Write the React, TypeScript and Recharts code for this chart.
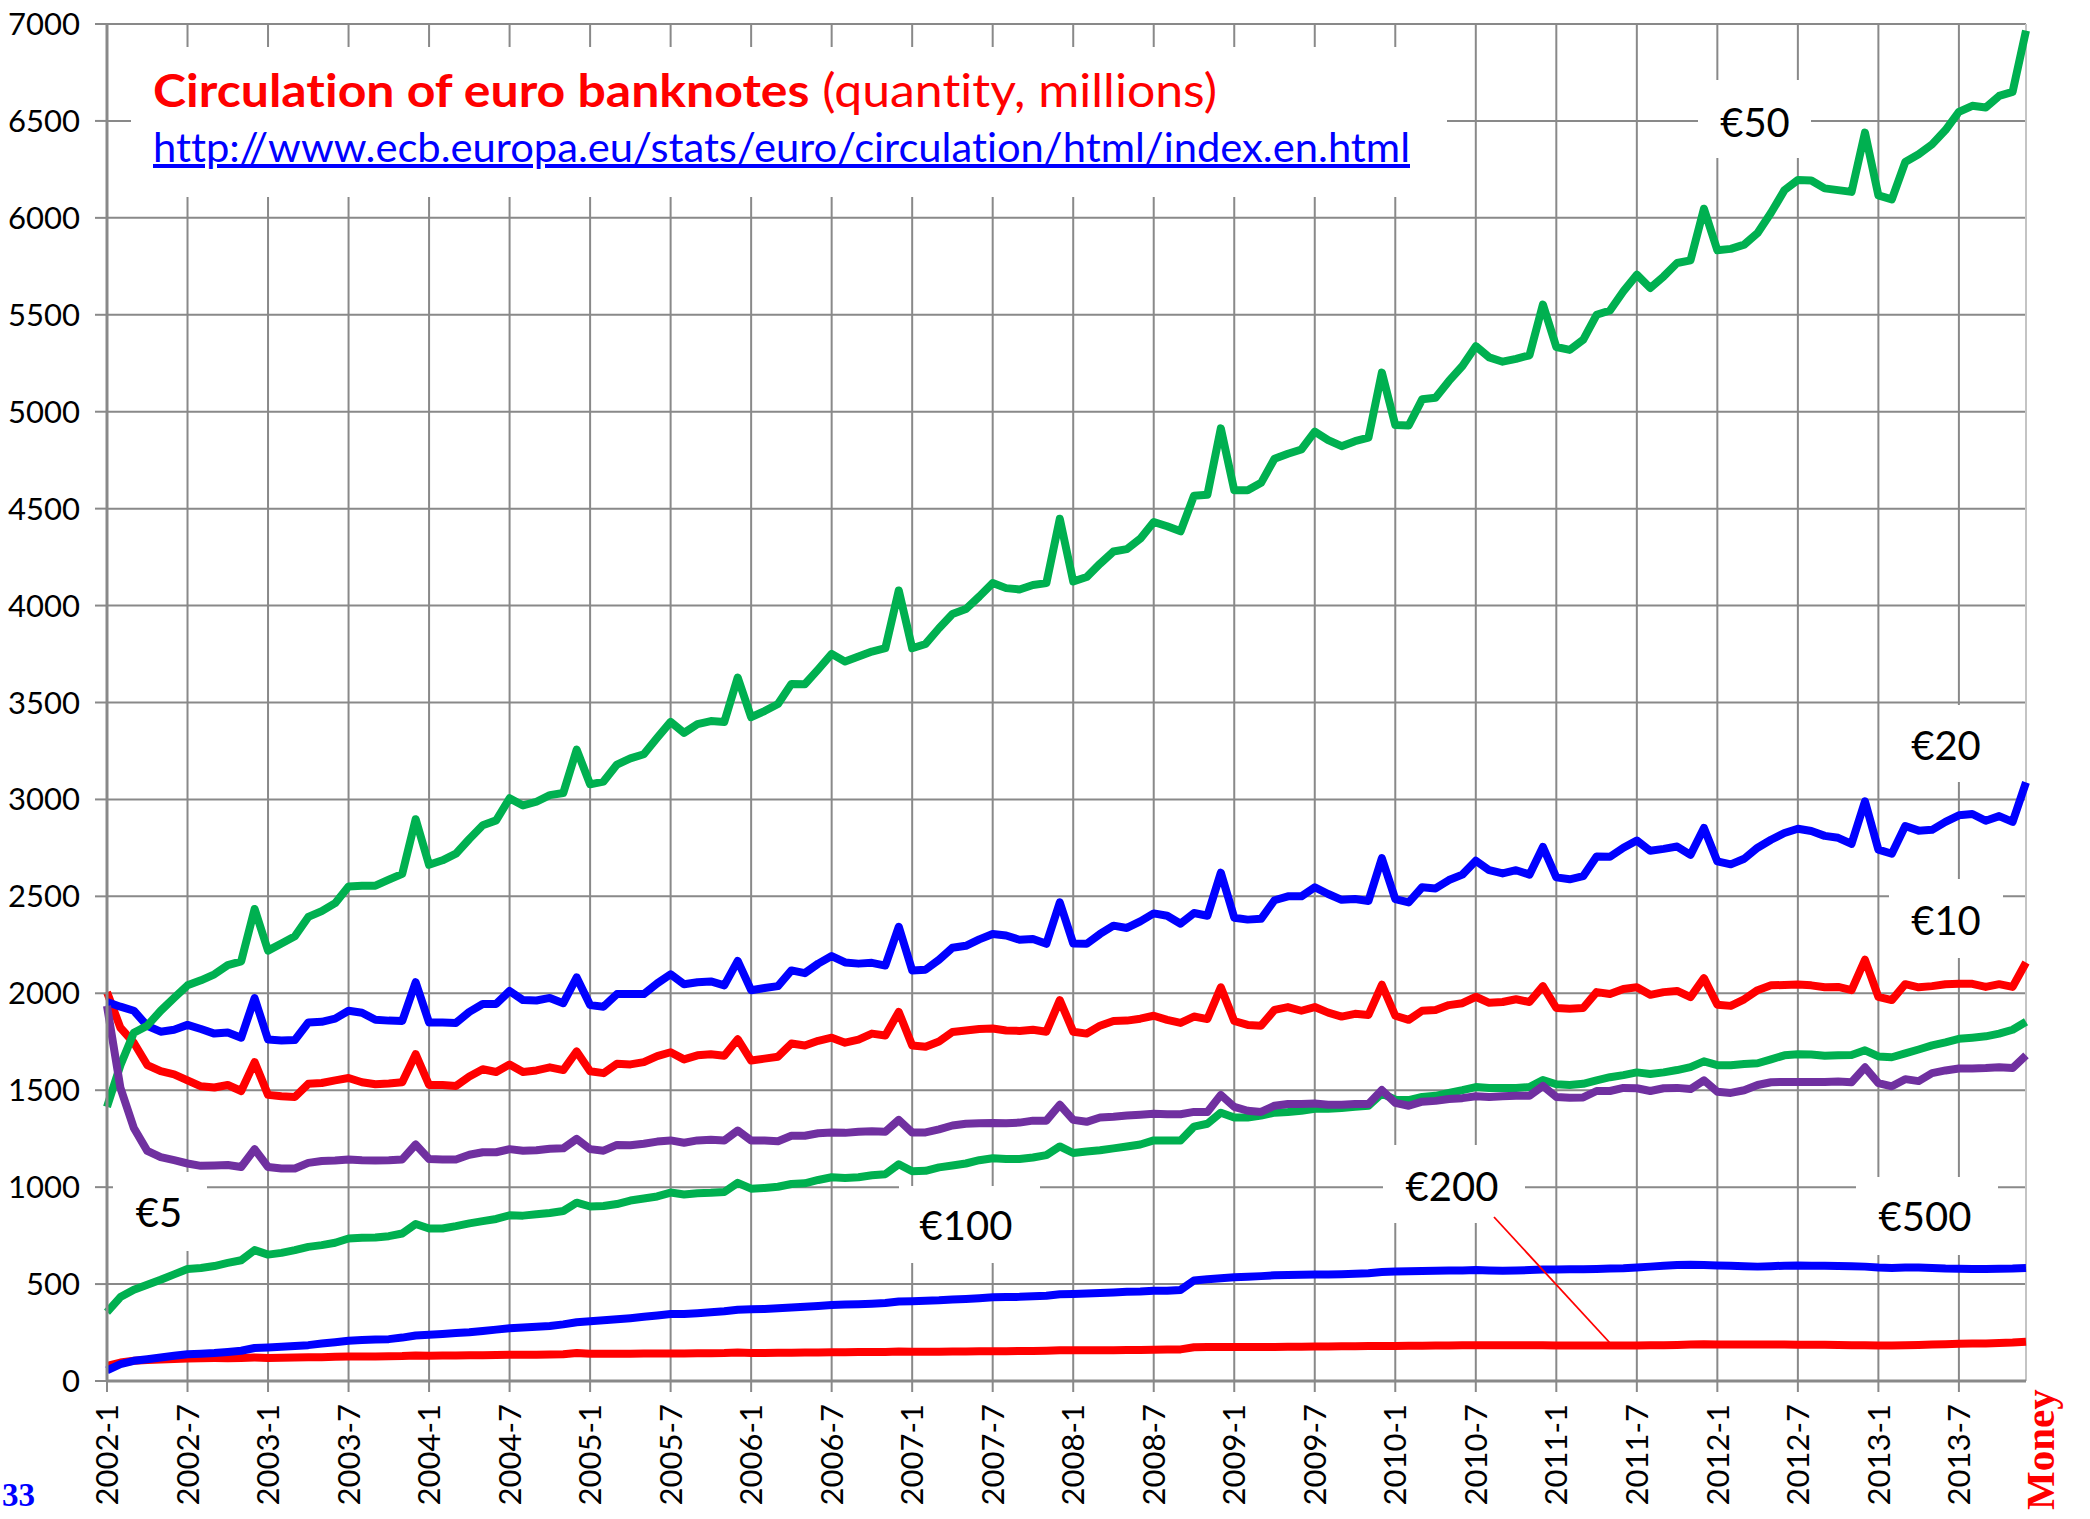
import React from 'react';
import { LineChart, Line, XAxis, YAxis, CartesianGrid, ReferenceLine } from 'recharts';

const years = [2002, 2003, 2004, 2005, 2006, 2007, 2008, 2009, 2010, 2011, 2012, 2013];
const monthsOfYear = [1, 2, 3, 4, 5, 6, 7, 8, 9, 10, 11, 12];
const yTicks = [0, 500, 1000, 1500, 2000, 2500, 3000, 3500, 4000, 4500, 5000, 5500, 6000, 6500, 7000];

const e5 = [
  355, 433, 471, 497, 522, 550, 578, 583, 593, 609, 623, 675,
  652, 661, 675, 692, 701, 713, 735, 739, 740, 747, 761, 810,
  787, 787, 799, 813, 825, 836, 855, 853, 860, 867, 877, 920,
  900, 903, 913, 931, 941, 952, 972, 962, 969, 971, 975, 1022,
  992, 996, 1002, 1016, 1020, 1037, 1051, 1047, 1051, 1061, 1067, 1118,
  1082, 1084, 1102, 1112, 1122, 1139, 1149, 1145, 1145, 1153, 1165, 1210,
  1176, 1184, 1190, 1200, 1210, 1220, 1241, 1241, 1241, 1312, 1327, 1384,
  1359, 1359, 1369, 1384, 1388, 1394, 1404, 1404, 1408, 1414, 1420, 1483,
  1451, 1449, 1465, 1471, 1486, 1500, 1516, 1512, 1512, 1512, 1516, 1553,
  1531, 1527, 1533, 1551, 1567, 1578, 1592, 1584, 1592, 1604, 1619, 1649,
  1629, 1629, 1635, 1639, 1659, 1680, 1686, 1684, 1678, 1680, 1682, 1706,
  1674, 1670, 1690, 1710, 1731, 1747, 1765, 1771, 1778, 1792, 1812, 1853,
];

const e10 = [
  2006, 1822, 1745, 1630, 1598, 1582, 1551, 1520, 1514, 1527, 1496, 1645,
  1476, 1469, 1465, 1533, 1537, 1551, 1563, 1541, 1531, 1535, 1541, 1686,
  1527, 1527, 1522, 1571, 1608, 1594, 1633, 1594, 1602, 1618, 1604, 1700,
  1598, 1588, 1637, 1633, 1645, 1676, 1696, 1659, 1680, 1686, 1678, 1763,
  1653, 1663, 1673, 1741, 1731, 1755, 1771, 1745, 1761, 1792, 1782, 1904,
  1731, 1724, 1751, 1800, 1808, 1816, 1818, 1808, 1806, 1812, 1802, 1965,
  1802, 1792, 1833, 1857, 1859, 1869, 1884, 1863, 1847, 1880, 1867, 2031,
  1857, 1837, 1833, 1914, 1929, 1910, 1929, 1900, 1880, 1894, 1888, 2044,
  1884, 1863, 1910, 1914, 1939, 1949, 1982, 1951, 1955, 1969, 1955, 2037,
  1924, 1920, 1924, 2006, 1996, 2022, 2031, 1992, 2006, 2012, 1980, 2078,
  1941, 1935, 1969, 2016, 2041, 2043, 2045, 2041, 2031, 2033, 2016, 2173,
  1982, 1965, 2047, 2031, 2037, 2047, 2049, 2049, 2033, 2047, 2033, 2159,
];

const e20 = [
  1955, 1931, 1910, 1832, 1802, 1812, 1837, 1816, 1792, 1798, 1771, 1975,
  1761, 1757, 1759, 1849, 1853, 1869, 1910, 1900, 1863, 1859, 1857, 2057,
  1849, 1849, 1847, 1904, 1945, 1945, 2012, 1965, 1963, 1976, 1949, 2082,
  1939, 1931, 1996, 1996, 1996, 2051, 2098, 2047, 2057, 2061, 2041, 2167,
  2016, 2027, 2037, 2118, 2104, 2153, 2192, 2159, 2153, 2157, 2143, 2343,
  2118, 2122, 2173, 2235, 2245, 2278, 2306, 2298, 2276, 2280, 2255, 2469,
  2257, 2255, 2306, 2349, 2337, 2371, 2412, 2400, 2359, 2414, 2400, 2622,
  2390, 2380, 2384, 2480, 2500, 2500, 2547, 2512, 2482, 2486, 2476, 2697,
  2486, 2469, 2547, 2541, 2584, 2612, 2684, 2635, 2618, 2635, 2612, 2755,
  2598, 2588, 2604, 2706, 2704, 2751, 2788, 2735, 2745, 2757, 2714, 2853,
  2680, 2665, 2694, 2751, 2792, 2827, 2849, 2837, 2812, 2802, 2771, 2990,
  2741, 2720, 2863, 2839, 2843, 2884, 2918, 2925, 2890, 2914, 2884, 3088,
];

const e50 = [
  1414, 1629, 1796, 1833, 1910, 1976, 2041, 2067, 2098, 2145, 2165, 2435,
  2220, 2257, 2294, 2394, 2424, 2465, 2551, 2555, 2555, 2586, 2616, 2898,
  2663, 2686, 2720, 2796, 2867, 2892, 3006, 2969, 2988, 3022, 3033, 3257,
  3078, 3092, 3180, 3212, 3233, 3318, 3400, 3343, 3388, 3404, 3400, 3629,
  3424, 3456, 3492, 3596, 3594, 3671, 3751, 3711, 3737, 3763, 3780, 4078,
  3780, 3802, 3883, 3956, 3982, 4047, 4116, 4090, 4083, 4106, 4116, 4448,
  4124, 4147, 4216, 4279, 4291, 4345, 4431, 4409, 4383, 4567, 4572, 4914,
  4595, 4595, 4633, 4757, 4783, 4805, 4897, 4853, 4822, 4848, 4866, 5202,
  4931, 4929, 5064, 5072, 5159, 5236, 5338, 5280, 5258, 5273, 5291, 5553,
  5334, 5319, 5371, 5500, 5522, 5621, 5707, 5638, 5698, 5767, 5781, 6047,
  5833, 5840, 5862, 5922, 6026, 6143, 6195, 6193, 6152, 6143, 6134, 6440,
  6116, 6095, 6288, 6328, 6379, 6453, 6547, 6578, 6569, 6629, 6650, 6966,
];

const e100 = [
  1935, 1512, 1305, 1187, 1155, 1139, 1122, 1110, 1112, 1114, 1104, 1196,
  1104, 1096, 1096, 1125, 1135, 1137, 1143, 1139, 1137, 1139, 1143, 1220,
  1145, 1143, 1143, 1167, 1180, 1180, 1196, 1188, 1190, 1198, 1200, 1249,
  1196, 1188, 1218, 1216, 1224, 1235, 1241, 1229, 1241, 1245, 1241, 1292,
  1241, 1241, 1237, 1265, 1265, 1278, 1282, 1280, 1286, 1288, 1286, 1347,
  1282, 1282, 1298, 1318, 1327, 1329, 1331, 1329, 1333, 1343, 1343, 1425,
  1347, 1337, 1359, 1363, 1369, 1374, 1378, 1376, 1376, 1388, 1388, 1476,
  1414, 1394, 1388, 1420, 1429, 1429, 1431, 1425, 1425, 1429, 1429, 1501,
  1435, 1420, 1441, 1445, 1455, 1459, 1469, 1465, 1469, 1471, 1471, 1522,
  1465, 1461, 1463, 1496, 1496, 1512, 1510, 1496, 1510, 1512, 1506, 1551,
  1492, 1486, 1500, 1527, 1541, 1543, 1543, 1543, 1543, 1545, 1541, 1618,
  1537, 1520, 1557, 1547, 1588, 1602, 1612, 1612, 1614, 1618, 1614, 1680,
];

const e200 = [
  78, 95, 104, 108, 111, 114, 116, 117, 118, 118, 119, 121,
  119, 120, 121, 122, 123, 125, 126, 127, 127, 128, 129, 132,
  130, 131, 132, 133, 133, 134, 135, 135, 136, 137, 138, 144,
  140, 140, 141, 141, 142, 142, 142, 142, 143, 143, 144, 147,
  145, 145, 146, 146, 147, 147, 148, 148, 149, 149, 150, 152,
  151, 151, 151, 152, 152, 153, 154, 154, 155, 155, 156, 158,
  158, 158, 159, 159, 160, 160, 161, 162, 163, 174, 175, 176,
  175, 175, 176, 176, 177, 177, 178, 178, 179, 179, 180, 181,
  181, 182, 182, 183, 183, 184, 185, 184, 184, 184, 184, 185,
  183, 183, 183, 183, 183, 183, 183, 184, 185, 186, 188, 189,
  188, 188, 188, 188, 188, 188, 187, 187, 187, 186, 185, 185,
  183, 183, 184, 186, 188, 190, 192, 193, 194, 196, 198, 202,
];

const e500 = [
  55, 87, 104, 112, 121, 130, 138, 141, 144, 150, 156, 170,
  173, 177, 181, 185, 193, 200, 208, 211, 214, 216, 224, 235,
  239, 243, 247, 251, 258, 265, 272, 276, 280, 284, 292, 303,
  308, 313, 318, 324, 331, 338, 346, 346, 350, 355, 360, 368,
  370, 372, 375, 379, 383, 387, 392, 394, 396, 399, 402, 410,
  412, 414, 416, 420, 423, 427, 432, 433, 434, 437, 440, 447,
  449, 451, 454, 457, 460, 462, 466, 465, 470, 518, 525, 530,
  535, 538, 541, 545, 547, 548, 550, 550, 551, 553, 556, 562,
  565, 566, 568, 569, 570, 570, 572, 570, 569, 570, 572, 575,
  575, 576, 576, 578, 580, 582, 586, 590, 594, 598, 600, 599,
  596, 594, 592, 590, 592, 595, 596, 595, 594, 593, 592, 590,
  585, 583, 585, 586, 583, 580, 579, 578, 578, 579, 580, 583,
];

const labels: string[] = [];
years.forEach((y) => monthsOfYear.forEach((m) => labels.push(`${y}-${m}`)));

const data = labels.map((label, i) => ({
  label,
  e5: e5[i],
  e10: e10[i],
  e20: e20[i],
  e50: e50[i],
  e100: e100[i],
  e200: e200[i],
  e500: e500[i],
}));

const series = [
  { key: 'e5', color: '#00B050' },
  { key: 'e10', color: '#FF0000' },
  { key: 'e20', color: '#0000FF' },
  { key: 'e50', color: '#00B050' },
  { key: 'e100', color: '#7030A0' },
  { key: 'e200', color: '#FF0000' },
  { key: 'e500', color: '#0000FF' },
];

const FONT = 'Lato, Calibri, Carlito, sans-serif';
const GRID = '#898989';

const XTick = (props: any) => {
  const { x, y, payload } = props;
  return (
    <text
      transform={`translate(${x},${y + 10}) rotate(-90)`}
      textAnchor="end"
      dy="0.36em"
      fontFamily={FONT}
      fontSize={31}
      fill="#000"
    >
      {payload.value}
    </text>
  );
};

const boxLabels = [
  { text: '€50', box: [1698, 80, 113, 78], cx: 1755, by: 137 },
  { text: '€20', box: [1889, 705, 114, 77], cx: 1946, by: 760 },
  { text: '€10', box: [1889, 879, 114, 79], cx: 1946, by: 935 },
  { text: '€5', box: [113, 1172, 94, 79], cx: 159, by: 1227 },
  { text: '€100', box: [899, 1186, 141, 77], cx: 966, by: 1240 },
  { text: '€200', box: [1383, 1145, 142, 78], cx: 1452, by: 1201 },
  { text: '€500', box: [1856, 1177, 142, 78], cx: 1925, by: 1231 },
];

export default function App() {
  return (
    <div style={{ position: 'absolute', left: 0, top: 0, width: 2090, height: 1519, background: '#fff', overflow: 'hidden' }}>
      <LineChart width={2090} height={1519} data={data} margin={{ top: 24, right: 64, bottom: 8, left: 7 }}>
        <CartesianGrid stroke={GRID} strokeWidth={2} />
        <XAxis
          dataKey="label"
          interval={5}
          height={130}
          tickSize={11}
          axisLine={{ stroke: GRID, strokeWidth: 3 }}
          tickLine={{ stroke: GRID, strokeWidth: 2 }}
          tick={<XTick />}
        />
        <YAxis
          type="number"
          domain={[0, 7000]}
          ticks={yTicks}
          width={100}
          tickSize={12}
          tickMargin={15}
          axisLine={{ stroke: GRID, strokeWidth: 3 }}
          tickLine={{ stroke: GRID, strokeWidth: 2 }}
          tick={{ fontFamily: FONT, fontSize: 31, fill: '#000' }}
        />
        <ReferenceLine x={labels[labels.length - 1]} stroke="#c4c4c4" strokeWidth={2} />
        {series.map((s) => (
          <Line
            key={s.key}
            dataKey={s.key}
            type="linear"
            stroke={s.color}
            strokeWidth={8}
            strokeLinejoin="round"
            dot={false}
            isAnimationActive={false}
          />
        ))}
      </LineChart>
      <svg width={2090} height={1519} style={{ position: 'absolute', left: 0, top: 0, pointerEvents: 'none', fontVariantLigatures: 'none' }}>
        <rect x={131} y={47} width={1316} height={150} fill="#fff" />
        <text x={153} y={107} fontFamily={FONT} fontSize={46} fill="#FF0000" textLength={1064} lengthAdjust="spacingAndGlyphs">
          <tspan fontWeight="bold">Circulation of euro banknotes</tspan>
          <tspan> (quantity, millions)</tspan>
        </text>
        <text x={153} y={162} fontFamily={FONT} fontSize={40} fill="#0000FF" textLength={1257} lengthAdjust="spacingAndGlyphs" style={{ textDecoration: 'underline' }}>
          http://www.ecb.europa.eu/stats/euro/circulation/html/index.en.html
        </text>
        {boxLabels.map((l) => (
          <g key={l.text}>
            <rect x={l.box[0]} y={l.box[1]} width={l.box[2]} height={l.box[3]} fill="#fff" />
            <text x={l.cx} y={l.by} textAnchor="middle" fontFamily={FONT} fontSize={40} fill="#000">
              {l.text}
            </text>
          </g>
        ))}
        <line x1={1494} y1={1217} x2={1610} y2={1343} stroke="#FF0000" strokeWidth={1.8} />
        <text transform="translate(2054,1510) rotate(-90)" fontFamily="'Liberation Serif', serif" fontWeight="bold" fontSize={41} fill="#FF0000">
          Money
        </text>
        <text x={2} y={1506} fontFamily="'Liberation Serif', serif" fontWeight="bold" fontSize={33} fill="#0000FF">
          33
        </text>
      </svg>
    </div>
  );
}
